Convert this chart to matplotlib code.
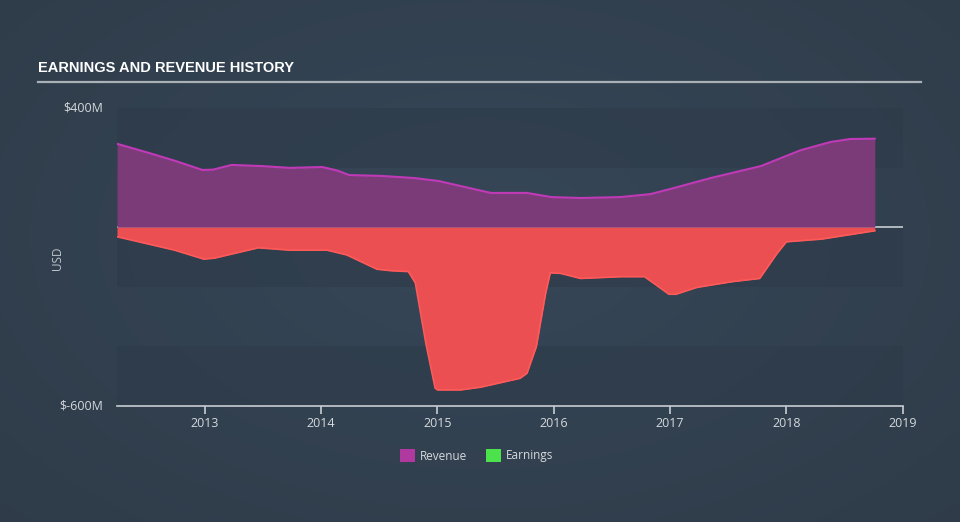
import numpy as np
import matplotlib
matplotlib.use("Agg")
import matplotlib.pyplot as plt
from matplotlib.patches import Rectangle

# ---- data (values in $M) ----
rev_years = [2012.245, 2012.53, 2012.75, 2012.98, 2013.07, 2013.23, 2013.5, 2013.73, 2014.01, 2014.14, 2014.24, 2014.52,
             2014.8, 2015.01, 2015.2, 2015.46, 2015.77, 2015.98, 2016.23, 2016.57, 2016.83, 2017.0, 2017.35, 2017.78,
             2018.12, 2018.38, 2018.55, 2018.76]
rev_vals = [280, 248, 222, 192, 193, 209, 205, 199, 202, 190, 175, 172,
            165, 155, 138, 115, 115, 101, 98, 101, 111, 128, 165, 205,
            258, 286, 296, 297]

earn_years = [2012.245, 2012.74, 2012.99, 2013.08, 2013.46, 2013.73, 2014.05, 2014.22, 2014.48, 2014.6, 2014.75,
              2014.81, 2014.9, 2014.98, 2015.0, 2015.2, 2015.37, 2015.54, 2015.71, 2015.77, 2015.85, 2015.93,
              2015.97, 2016.06, 2016.23, 2016.58, 2016.78, 2016.88, 2016.99, 2017.05, 2017.23, 2017.53, 2017.77,
              2017.92, 2018.0, 2018.3, 2018.76]
earn_vals = [-32, -77, -107, -104, -69, -77, -77, -93, -141, -146, -149,
             -187, -389, -540, -546, -546, -537, -522, -507, -490, -401, -222,
             -153, -155, -172, -166, -166, -194, -225, -225, -202, -183, -172,
             -88, -49, -40, -12]

xticks = [2013, 2014, 2015, 2016, 2017, 2018, 2019]
ytick_vals = [400, -600]
ytick_labels = ["$400M", "$-600M"]
series_names = ["Revenue", "Earnings"]

FONT = ["Open Sans", "DejaVu Sans"]

fig = plt.figure(figsize=(9.6, 5.22), dpi=100)

# background gradient
bg = fig.add_axes([0, 0, 1, 1], zorder=-10)
yy, xx = np.mgrid[0:1:200j, 0:1:200j]
r = np.sqrt(((xx - 0.5) / 0.8) ** 2 + ((yy - 0.55) / 0.9) ** 2)
c0 = np.array([0x36, 0x47, 0x58]) / 255
c1 = np.array([0x2e, 0x3a, 0x47]) / 255
t = np.clip(r, 0, 1)[..., None]
img = c0 * (1 - t) + c1 * t
bg.imshow(img, extent=[0, 1, 0, 1], aspect="auto", origin="lower")
bg.set_axis_off()

ax = fig.add_axes([117 / 960, 1 - 406 / 522, (902.7 - 117) / 960, (406 - 108) / 522])
ax.set_facecolor("none")
ax.set_xlim(2012.245, 2019)
ax.set_ylim(-600, 400)

# bands
for lo, hi in [(200, 400), (-200, 0), (-600, -400)]:
    ax.add_patch(Rectangle((2012.245, lo), 2019 - 2012.245, hi - lo, facecolor="#2d3a49",
                           alpha=0.55, edgecolor="none", zorder=0))

ax.axhline(0, color="#c8cdd2", lw=1.2, zorder=1)

ax.fill_between(rev_years, rev_vals, 0, color="#7b3a78", zorder=2, lw=0)
ax.plot(rev_years, rev_vals, color="#c03ab8", lw=1.5, zorder=3)
ax.fill_between(earn_years, earn_vals, 0, color="#eb4f51", zorder=2, lw=0)
ax.plot(earn_years, earn_vals, color="#ff5a5a", lw=1.2, zorder=3)

for s in ["top", "right", "left"]:
    ax.spines[s].set_visible(False)
ax.spines["bottom"].set_color("#c8cdd2")
ax.spines["bottom"].set_linewidth(1.2)
ax.set_xticks(xticks)
ax.set_xticklabels([str(x) for x in xticks], color="#d5d9dd", fontsize=9, family=FONT)
ax.tick_params(axis="x", colors="#c8cdd2", length=6, width=1.2, pad=2, labelcolor="#d5d9dd")
ax.set_yticks([])

for v, lab in zip(ytick_vals, ytick_labels):
    fig.text(103 / 960, 1 - (108 + (400 - v) * 0.298) / 522, lab, ha="right", va="center",
             color="#d5d9dd", fontsize=9, family=FONT)
fig.text(57 / 960, 1 - 258 / 522, "USD", rotation=90, ha="center", va="center",
         color="#c0c6cc", fontsize=8.5, family=FONT)

# title
fig.text(38 / 960, 1 - 68 / 522, "EARNINGS AND REVENUE HISTORY", ha="left", va="center",
         color="white", fontsize=10.5, fontweight="bold",
         family=["Liberation Sans", "DejaVu Sans"])
fig.add_artist(plt.Line2D([38 / 960, 921 / 960], [1 - 81.5 / 522] * 2, color="#a9b0b6", lw=1.6))

# legend
lx = [400, 486]
cols = ["#b0399f", "#4ce24c"]
for x0, col, name in zip(lx, cols, series_names):
    fig.add_artist(Rectangle((x0 / 960, 1 - 462 / 522), 15 / 960, 13 / 522, facecolor=col,
                             edgecolor="none", transform=fig.transFigure))
    fig.text((x0 + 20) / 960, 1 - 456 / 522, name, ha="left", va="center", color="#d5d9dd",
             fontsize=8.5, family=FONT)

fig.savefig("out.png", dpi=100)
